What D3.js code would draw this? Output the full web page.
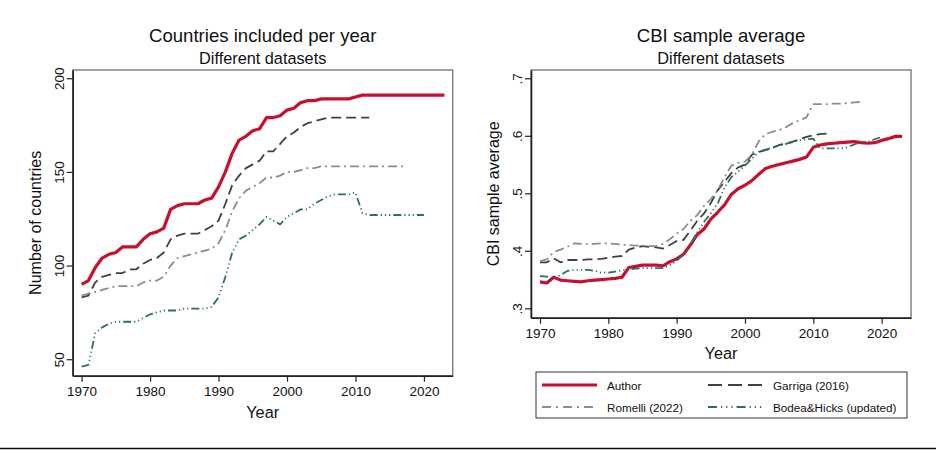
<!DOCTYPE html>
<html><head><meta charset="utf-8">
<script src="https://cdn.jsdelivr.net/npm/d3@7"></script>
<style>
html,body{margin:0;padding:0;background:#fff;}
svg{display:block;font-family:"Liberation Sans",Arial,Helvetica,sans-serif;}
</style></head>
<body><svg id="chart" width="936" height="450"></svg>
<script>
// ---------- DATA ----------
const seriesNames = ["Author", "Garriga (2016)", "Romelli (2022)", "Bodea&Hicks (updated)"];
const yearsAuthor  = d3.range(1970, 2024);
const yearsGarriga = d3.range(1970, 2013);
const yearsRomelli = d3.range(1970, 2018);
const yearsBodea   = d3.range(1970, 2021);

// Countries included per year
const countAuthor = [90,92,99,104,106,107,110,110,110,114,
  117,118,120,130,132,133,133,133,135,136,
  142,150,160,167,169,172,173,179,179,180,
  183,184,187,188,188,189,189,189,189,189,
  190,191,191,191,191,191,191,191,191,191,
  191,191,191,191];
const countGarriga = [83,84,91,94,95,96,96,98,98,101,
  103,104,107,114,116,117,117,117,119,121,
  124,133,143,148,152,154,156,161,161,165,
  169,171,174,176,177,178,179,179,179,179,
  179,179,179];
const countRomelli = [84,85,86,87,88,89,89,89,89,91,
  92,92,94,100,104,105,106,107,108,109,
  112,119,129,136,140,142,144,147,147,148,
  150,150,151,152,152,153,153,153,153,153,
  153,153,153,153,153,153,153,153];
const countBodea = [46,47,64,67,69,70,70,70,70,72,
  74,75,76,76,76,77,77,77,77,78,
  83,94,107,114,116,119,122,126,124,122,
  126,128,130,130,133,135,137,138,138,138,
  139,128,127,127,127,127,127,127,127,127,
  127];

// CBI sample average
const cbiAuthor = [.346,.344,.354,.349,.348,.347,.346,.348,.349,.350,
  .351,.352,.354,.371,.373,.375,.375,.375,.374,.381,
  .386,.394,.410,.428,.438,.455,.467,.480,.498,.508,
  .514,.522,.533,.543,.547,.550,.553,.556,.559,.563,
  .580,.584,.586,.587,.588,.589,.590,.588,.587,.588,
  .592,.595,.599,.599];
const cbiGarriga = [.380,.380,.387,.380,.384,.384,.384,.385,.385,.386,
  .388,.390,.391,.402,.406,.408,.407,.406,.404,.410,
  .417,.419,.435,.452,.465,.483,.505,.520,.535,.545,
  .550,.567,.572,.575,.579,.584,.587,.590,.594,.598,
  .601,.603,.604];
const cbiRomelli = [.382,.385,.398,.402,.407,.413,.412,.412,.412,.413,
  .413,.412,.411,.410,.409,.409,.408,.408,.412,.420,
  .430,.438,.452,.462,.478,.490,.505,.528,.548,.553,
  .555,.567,.590,.603,.607,.610,.615,.622,.627,.632,
  .655,.655,.655,.656,.656,.657,.658,.659];
const cbiBodea = [.356,.355,.352,.358,.365,.367,.367,.367,.365,.362,
  .362,.364,.366,.368,.369,.370,.370,.370,.370,.375,
  .383,.393,.411,.432,.450,.465,.482,.510,.528,.538,
  .548,.560,.572,.576,.579,.583,.586,.589,.592,.594,
  .595,.578,.578,.578,.578,.580,.585,.589,.590,.594,
  .598];

const xTicks = [1970, 1980, 1990, 2000, 2010, 2020];
const leftYTicks = [50, 100, 150, 200];
const rightYTicks = [.3, .4, .5, .6, .7];
const rightYTickLabels = [".3", ".4", ".5", ".6", ".7"];

// ---------- STYLES ----------
const styles = [
  {color:"#c8102e", width:3.2, dash:null, legendDash:null},
  {color:"#404040", width:1.8, dash:"10,5", legendDash:"14,6"},
  {color:"#8c8c8c", width:1.8, dash:"9,4,2,4", legendDash:"9,5,2,5"},
  {color:"#2b6f69", width:1.8, dash:"8,3,1.2,3,1.2,3,1.2,3", legendDash:"9,4,1.2,4,1.2,4,1.2,4"}
];

const svg = d3.select("#chart");
svg.append("rect").attr("width",936).attr("height",450).attr("fill","#fff");

function panel(opts){
  const {x0,x1,y0,y1,xDomain,yDomain,series,yTicks,yFmt,title,subtitle,yTitle,yTitleX,yLabelX,xTitleY} = opts;
  const x = d3.scaleLinear().domain(xDomain).range([x0,x1]);
  const y = d3.scaleLinear().domain(yDomain).range([y1,y0]);
  const g = svg.append("g");
  // frame
  g.append("rect").attr("x",x0).attr("y",y0).attr("width",x1-x0).attr("height",y1-y0)
    .attr("fill","#fff").attr("stroke","#7a7a7a").attr("stroke-width",1.4);
  // lines
  const line = d3.line().x(d=>x(d[0])).y(d=>y(d[1]));
  series.forEach((s,i)=>{
    const st = styles[i];
    g.append("path").datum(s.years.map((yr,j)=>[yr,s.values[j]]))
      .attr("d",line).attr("fill","none").attr("stroke",st.color)
      .attr("stroke-width",st.width).attr("stroke-linejoin","round")
      .attr("stroke-dasharray",st.dash);
  });
  // axes
  const ax = g.append("g").attr("transform",`translate(0,${y1})`)
    .call(d3.axisBottom(x).tickValues(xTicks).tickSize(6).tickSizeOuter(0).tickFormat(d3.format("d")));
  ax.select(".domain").attr("stroke","#222").attr("stroke-width",1.6);
  ax.selectAll(".tick line").attr("stroke","#222").attr("stroke-width",1.2);
  ax.selectAll(".tick text").attr("font-size",13.5).attr("fill","#111").attr("y",11)
    .attr("font-family","Liberation Sans, Arial, sans-serif");
  const ay = g.append("g").attr("transform",`translate(${x0},0)`)
    .call(d3.axisLeft(y).tickValues(yTicks).tickSize(6).tickSizeOuter(0).tickFormat(yFmt));
  ay.select(".domain").attr("stroke","#222").attr("stroke-width",1.6);
  ay.selectAll(".tick line").attr("stroke","#222").attr("stroke-width",1.2);
  ay.selectAll(".tick text").attr("font-size",13.5).attr("fill","#111")
    .attr("font-family","Liberation Sans, Arial, sans-serif")
    .attr("x",null).attr("dy",null)
    .attr("text-anchor","middle")
    .attr("transform",`translate(${yLabelX - x0},0) rotate(-90)`);
  // titles
  const cx = (x0+x1)/2;
  svg.append("text").attr("x",cx).attr("y",42).attr("text-anchor","middle")
    .attr("font-size",18.6).attr("fill","#111").text(title);
  svg.append("text").attr("x",cx).attr("y",64).attr("text-anchor","middle")
    .attr("font-size",16.3).attr("fill","#111").text(subtitle);
  svg.append("text").attr("x",cx).attr("y",xTitleY).attr("text-anchor","middle")
    .attr("font-size",16.3).attr("fill","#111").text("Year");
  svg.append("text").attr("transform",`translate(${yTitleX},${(y0+y1)/2}) rotate(-90)`)
    .attr("text-anchor","middle").attr("font-size",16).attr("fill","#111").text(yTitle);
}

panel({x0:72.7,x1:452.7,y0:70,y1:375.7,xDomain:[1968.7,2024.2],yDomain:[41.2,204.4],
  series:[{years:yearsAuthor,values:countAuthor},{years:yearsGarriga,values:countGarriga},
          {years:yearsRomelli,values:countRomelli},{years:yearsBodea,values:countBodea}],
  yTicks:leftYTicks,yFmt:d3.format("d"),title:"Countries included per year",subtitle:"Different datasets",
  yTitle:"Number of countries",yTitleX:41,yLabelX:64,xTitleY:418});

panel({x0:531,x1:911,y0:70,y1:317.7,xDomain:[1968.68,2024.3],yDomain:[0.2837,0.7144],
  series:[{years:yearsAuthor,values:cbiAuthor},{years:yearsGarriga,values:cbiGarriga},
          {years:yearsRomelli,values:cbiRomelli},{years:yearsBodea,values:cbiBodea}],
  yTicks:rightYTicks,yFmt:(d,i)=>rightYTickLabels[i],title:"CBI sample average",subtitle:"Different datasets",
  yTitle:"CBI sample average",yTitleX:499,yLabelX:522,xTitleY:359});

// legend
const lg = svg.append("g");
lg.append("rect").attr("x",536).attr("y",372).attr("width",371).attr("height",46)
  .attr("fill","#fff").attr("stroke","#333").attr("stroke-width",1);
const legPos = [[542,385],[708,385],[542,407],[708,407]];
seriesNames.forEach((n,i)=>{
  const [lx,ly] = legPos[i]; const st = styles[i];
  lg.append("line").attr("x1",lx).attr("x2",lx+55).attr("y1",ly).attr("y2",ly)
    .attr("stroke",st.color).attr("stroke-width",st.width).attr("stroke-dasharray",st.legendDash);
  lg.append("text").attr("x",lx+65).attr("y",ly+4.5).attr("font-size",11.7).attr("fill","#111").text(n);
});

// bottom rule
svg.append("line").attr("x1",0).attr("x2",936).attr("y1",448.5).attr("y2",448.5)
  .attr("stroke","#111").attr("stroke-width",1.6);
</script></body></html>
